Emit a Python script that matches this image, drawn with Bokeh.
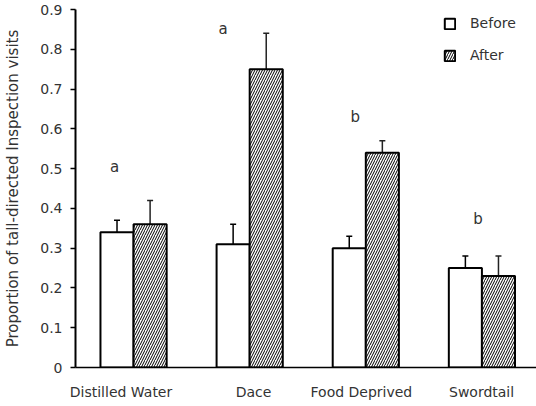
from bokeh.plotting import figure
from bokeh.models import (ColumnDataSource, Range1d, FixedTicker, Whisker, TeeHead,
                          Legend, LegendItem)
from bokeh.core.properties import value
from bokeh.embed import file_html
from bokeh.resources import INLINE

# ---- data ----
categories = ["Distilled Water", "Dace", "Food Deprived", "Swordtail"]
before = [0.34, 0.31, 0.30, 0.25]
before_err = [0.03, 0.05, 0.03, 0.03]
after = [0.36, 0.75, 0.54, 0.23]
after_err = [0.06, 0.09, 0.03, 0.05]
sig_letters = ["a", "a", "b", "b"]
sig_letter_y = [0.505, 0.85, 0.63, 0.374]
y_ticks = [0, 0.1, 0.2, 0.3, 0.4, 0.5, 0.6, 0.7, 0.8, 0.9]

FONT = "DejaVu Sans"
TXT = "#333333"

# ---- layout helpers (positions) ----
bar_w = 0.285
centers = [i + 0.5 for i in range(len(categories))]
x_before = [c - bar_w / 2 for c in centers]
x_after = [c + bar_w / 2 for c in centers]
label_pos = [0.392, 1.533, 2.462, 3.497]
letter_dx = [-0.164, -0.23, -0.09, -0.033]

src_b = ColumnDataSource(dict(x=x_before, top=before,
                              upper=[v + e for v, e in zip(before, before_err)],
                              lower=[v - e for v, e in zip(before, before_err)]))
src_a = ColumnDataSource(dict(x=x_after, top=after,
                              upper=[v + e for v, e in zip(after, after_err)],
                              lower=[v - e for v, e in zip(after, after_err)]))

p = figure(width=536, height=406, output_backend="svg", toolbar_location=None,
           x_range=Range1d(0, 3.97), y_range=Range1d(0, 0.9),
           min_border_left=75, min_border_right=0, min_border_top=9,
           min_border_bottom=39)
p.outline_line_color = None
p.xgrid.grid_line_color = None
p.ygrid.grid_line_color = None
p.background_fill_color = "white"

rb = p.vbar(x="x", top="top", width=bar_w, source=src_b, fill_color="white",
            line_color="black", line_width=2)
ra = p.vbar(x="x", top="top", width=bar_w, source=src_a, fill_color="white",
            line_color="black", line_width=2, hatch_pattern="/",
            hatch_color="black", hatch_scale=5, hatch_weight=1.0)

p.add_layout(Whisker(source=src_b, base="x", upper="upper", lower="lower",
                     line_color="black", line_width=1.5,
                     upper_head=TeeHead(size=6, line_width=1.5, line_color="black"),
                     lower_head=TeeHead(size=6, line_width=1.5, line_color="black")))
p.add_layout(Whisker(source=src_a, base="x", upper="upper", lower="lower",
                     line_color="#222222", line_width=1.5,
                     upper_head=TeeHead(size=6, line_width=1.5, line_color="#222222"),
                     lower_head=None))

p.text(x=[c + d for c, d in zip(centers, letter_dx)], y=sig_letter_y, text=sig_letters,
       text_font=value(FONT), text_font_size="15px", text_color=TXT,
       text_align="center", text_baseline="alphabetic")

# axes
p.xaxis.ticker = FixedTicker(ticks=label_pos)
p.xaxis.major_label_overrides = {pos: c for pos, c in zip(label_pos, categories)}
p.xaxis.major_tick_line_color = None
p.xaxis.minor_tick_line_color = None
p.xaxis.major_tick_out = 0
p.xaxis.major_tick_in = 0
p.xaxis.axis_line_color = "black"
p.xaxis.axis_line_width = 1.5
p.xaxis.major_label_standoff = 16
p.xaxis.major_label_text_font = FONT
p.xaxis.major_label_text_font_size = "14px"
p.xaxis.major_label_text_color = TXT

p.yaxis.ticker = FixedTicker(ticks=y_ticks)
p.yaxis.major_label_overrides = {0: "0"}
p.yaxis.minor_tick_line_color = None
p.yaxis.major_tick_out = 5
p.yaxis.major_tick_in = 0
p.yaxis.major_tick_line_width = 1.5
p.yaxis.axis_line_width = 2
p.yaxis.major_label_standoff = 8
p.yaxis.major_label_text_font = FONT
p.yaxis.major_label_text_font_size = "14px"
p.yaxis.major_label_text_color = TXT
p.yaxis.axis_label = "Proportion of tall-directed Inspection visits"
p.yaxis.axis_label_text_font = FONT
p.yaxis.axis_label_text_font_size = "15px"
p.yaxis.axis_label_text_font_style = "normal"
p.yaxis.axis_label_text_color = TXT
p.yaxis.axis_label_standoff = 15

legend = Legend(items=[LegendItem(label="Before", renderers=[rb]),
                       LegendItem(label="After", renderers=[ra])],
                location=(368, 302), border_line_color=None,
                background_fill_alpha=0, padding=0, margin=0,
                glyph_width=13, glyph_height=13, label_standoff=14,
                label_height=20, spacing=12,
                label_text_font=FONT, label_text_font_size="14px",
                label_text_color=TXT)
p.add_layout(legend)

open("out.html", "w").write(file_html(p, INLINE))
